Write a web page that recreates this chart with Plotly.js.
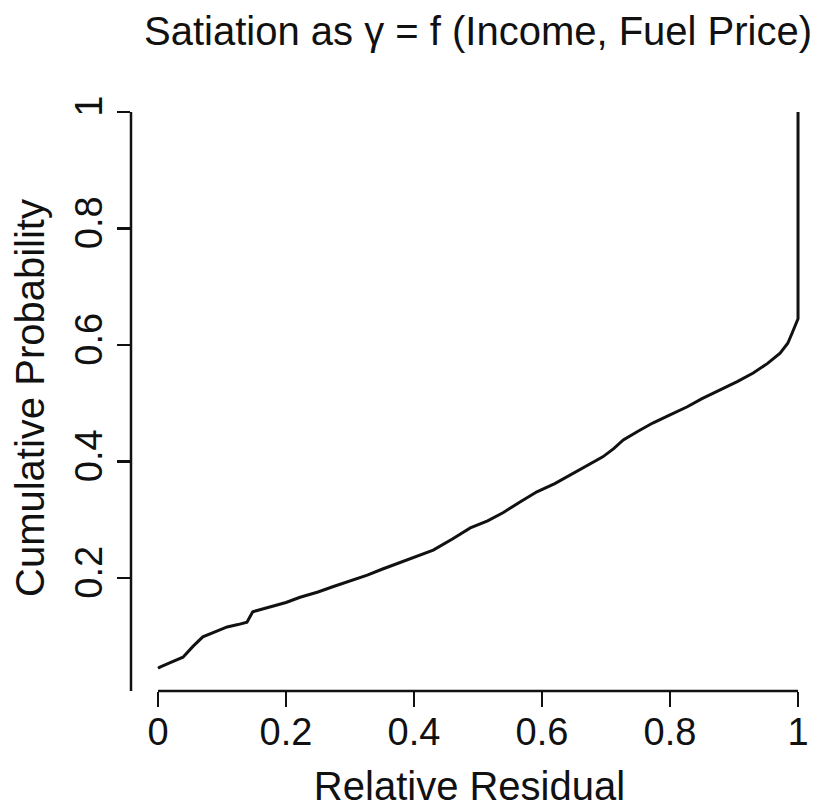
<!DOCTYPE html>
<html>
<head>
<meta charset="utf-8">
<script src="https://cdn.plot.ly/plotly-3.0.1.min.js"></script>
<style>html,body{margin:0;padding:0;background:#fff;}#chart{width:817px;height:810px;}</style>
</head>
<body>
<div id="chart"></div>
<script>
// Relative residual (x) vs cumulative probability (y)
const relativeResidual = [0.000, 0.003, 0.020, 0.039, 0.055, 0.070, 0.090, 0.108, 0.125, 0.139, 0.148, 0.160, 0.175, 0.200, 0.222, 0.250, 0.273, 0.300, 0.327, 0.350, 0.378, 0.405, 0.430, 0.460, 0.488, 0.515, 0.539, 0.565, 0.592, 0.620, 0.644, 0.670, 0.695, 0.712, 0.727, 0.750, 0.773, 0.800, 0.827, 0.850, 0.878, 0.905, 0.930, 0.952, 0.972, 0.984, 0.991, 0.997, 1.000, 1.000];
const cumulativeProbability = [0.045, 0.047, 0.055, 0.064, 0.083, 0.099, 0.108, 0.116, 0.120, 0.124, 0.142, 0.146, 0.150, 0.158, 0.167, 0.176, 0.185, 0.195, 0.205, 0.215, 0.227, 0.238, 0.248, 0.267, 0.286, 0.298, 0.312, 0.330, 0.348, 0.362, 0.377, 0.392, 0.408, 0.422, 0.437, 0.452, 0.466, 0.480, 0.494, 0.508, 0.523, 0.537, 0.552, 0.568, 0.586, 0.603, 0.621, 0.635, 0.645, 1.000];
const xTicks = [0, 0.2, 0.4, 0.6, 0.8, 1];
const xTickLabels = ["0", "0.2", "0.4", "0.6", "0.8", "1"];
const yTicks = [0.2, 0.4, 0.6, 0.8, 1];
const yTickLabels = ["0.2", "0.4", "0.6", "0.8", "1"];

const FONT = "Liberation Sans, Arial, Helvetica, sans-serif";
const INK = "#111";

const trace = {
  x: relativeResidual,
  y: cumulativeProbability,
  type: "scatter",
  mode: "lines",
  line: {color: "#111", width: 3, shape: "linear"},
  hoverinfo: "skip"
};

const layout = {
  width: 817, height: 810,
  margin: {l: 131, r: 9, t: 105, b: 119},
  paper_bgcolor: "#fff", plot_bgcolor: "#fff",
  showlegend: false,
  font: {family: FONT, size: 38, color: INK},
  title: {
    text: "Satiation as \u03b3 = f (Income, Fuel Price)",
    font: {family: FONT, size: 40, color: INK},
    x: 0.5126, xanchor: "center", xref: "paper",
    y: 0.962, yanchor: "middle", yref: "container"
  },
  xaxis: {
    range: [-0.0422, 1.0156],
    tickvals: xTicks, ticktext: xTickLabels,
    ticks: "outside", ticklen: 15, tickwidth: 2.5, tickcolor: INK,
    ticklabelstandoff: -8,
    showline: false, showgrid: false, zeroline: false,
    tickfont: {family: FONT, size: 38, color: INK},
    title: {text: "Relative Residual", font: {family: FONT, size: 40, color: INK}, standoff: 20},
    fixedrange: true
  },
  yaxis: {
    range: [0.006, 1.012],
    tickvals: yTicks, ticktext: yTickLabels,
    tickangle: -90,
    ticks: "outside", ticklen: 13, tickwidth: 2.5, tickcolor: INK,
    showline: false, showgrid: false, zeroline: false,
    tickfont: {family: FONT, size: 38, color: INK},
    title: {text: "Cumulative Probability", font: {family: FONT, size: 40, color: INK}, standoff: 10},
    fixedrange: true
  },
  shapes: [
    {type: "line", xref: "x", yref: "paper", x0: xTicks[0], x1: xTicks[xTicks.length - 1], y0: 0, y1: 0,
     line: {color: INK, width: 2.5}},
    {type: "line", xref: "paper", yref: "y", x0: 0, x1: 0, y0: 0.006, y1: yTicks[yTicks.length - 1],
     line: {color: INK, width: 2.5}}
  ]
};

Plotly.newPlot("chart", [trace], layout, {displayModeBar: false, staticPlot: true});
</script>
</body>
</html>
